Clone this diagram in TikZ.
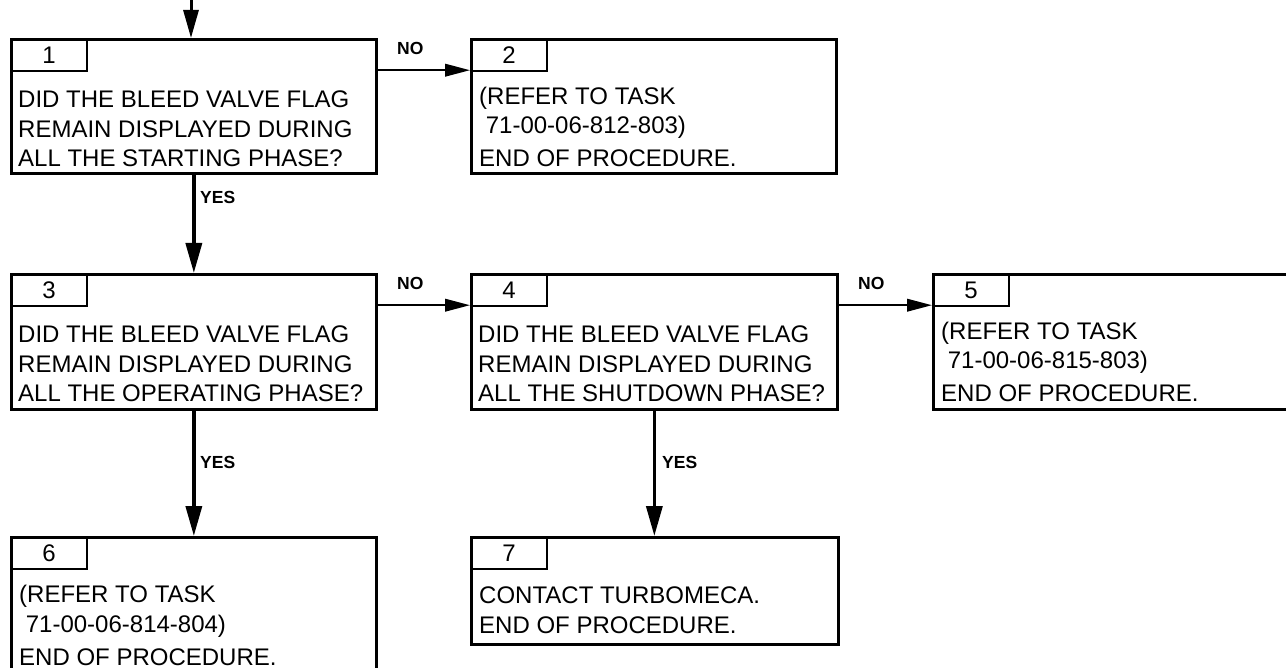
\documentclass[tikz,border=0pt]{standalone}
\usepackage{fontspec}
\setmainfont{Liberation Sans}
\usetikzlibrary{arrows.meta,calc}
\tikzset{
 box/.style={draw, line width=2.7pt, anchor=north west, inner sep=0pt},
 tab/.style={draw, line width=2.2pt, anchor=north west, minimum width=76pt, minimum height=32pt, inner sep=0pt, font=\fontsize{24}{29}\selectfont},
 txt/.style={anchor=base west, align=left, inner sep=0pt, font=\fontsize{24}{29.5}\selectfont},
 lbl/.style={anchor=base west, inner sep=0pt, font=\bfseries\fontsize{17.5}{20}\selectfont},
 yesarr/.style={line width=3.5pt, -{Triangle[length=30pt,width=16pt]}},
 toparr/.style={line width=3pt, -{Triangle[length=28pt,width=15pt]}},
 noarr/.style={line width=2.2pt, -{Triangle[length=25pt,width=12.5pt]}},
}
\begin{document}
\begin{tikzpicture}[x=1pt,y=-1pt]
\clip (0,0) rectangle (1286,668);
% boxes
\node[box, minimum width=365pt, minimum height=134pt] (b1) at (10,38) {};
\node[box, minimum width=365pt, minimum height=134pt] (b2) at (470,38) {};
\node[box, minimum width=365pt, minimum height=135pt] (b3) at (10,273) {};
\node[box, minimum width=366pt, minimum height=135pt] (b4) at (470,273) {};
\node[box, minimum width=380pt, minimum height=135pt] (b5) at (932,273) {};
\node[box, minimum width=365pt, minimum height=160pt] (b6) at (10,536) {};
\node[box, minimum width=367pt, minimum height=107pt] (b7) at (470,536) {};
% tabs
\node[tab] (t1) at (b1.north west) {1};
\node[tab] (t2) at (b2.north west) {2};
\node[tab] (t3) at (b3.north west) {3};
\node[tab] (t4) at (b4.north west) {4};
\node[tab] (t5) at (b5.north west) {5};
\node[tab] (t6) at (b6.north west) {6};
\node[tab] (t7) at (b7.north west) {7};
% texts (anchor = baseline of last line)
\node[txt] (x1) at ($(b1.north west)+(8,129)$) {DID THE BLEED VALVE FLAG\\REMAIN DISPLAYED DURING\\ALL THE STARTING PHASE?};
\node[txt] (x2) at ($(b2.north west)+(9,129)$) {(REFER TO TASK\\\ 71-00-06-812-803)\\[3.5pt]END OF PROCEDURE.};
\node[txt] (x3) at ($(b3.north west)+(8,129)$) {DID THE BLEED VALVE FLAG\\REMAIN DISPLAYED DURING\\ALL THE OPERATING PHASE?};
\node[txt] (x4) at ($(b4.north west)+(8,129)$) {DID THE BLEED VALVE FLAG\\REMAIN DISPLAYED DURING\\ALL THE SHUTDOWN PHASE?};
\node[txt] (x5) at ($(b5.north west)+(9,129)$) {(REFER TO TASK\\\ 71-00-06-815-803)\\[3.5pt]END OF PROCEDURE.};
\node[txt] (x6) at ($(b6.north west)+(9,129)$) {(REFER TO TASK\\\ 71-00-06-814-804)\\[3.5pt]END OF PROCEDURE.};
\node[txt] (x7) at ($(b7.north west)+(9,97)$) {CONTACT TURBOMECA.\\[0.5pt]END OF PROCEDURE.};
% connectors
\coordinate (start) at (191,0);
\draw[toparr] (start) -- (start |- b1.north);
\draw[noarr] ([yshift=2pt]b1.east |- t2.south) -- ([yshift=2pt]t2.south west);
\draw[yesarr] (b1.south) -- (b3.north);
\draw[noarr] ([yshift=2pt]b3.east |- t4.south) -- ([yshift=2pt]t4.south west);
\draw[noarr] ([yshift=2pt]b4.east |- t5.south) -- ([yshift=2pt]t5.south west);
\draw[yesarr] (b3.south) -- (b6.north);
\draw[yesarr] (b4.south) -- (b4.south |- b7.north);
% labels
\node[lbl] (n1) at (397,55) {NO};
\node[lbl] (n2) at (397,290) {NO};
\node[lbl] (n3) at (858,290) {NO};
\node[lbl] (y1) at (200,204) {YES};
\node[lbl] (y2) at (200,468) {YES};
\node[lbl] (y3) at (662,468) {YES};
\end{tikzpicture}
\end{document}
